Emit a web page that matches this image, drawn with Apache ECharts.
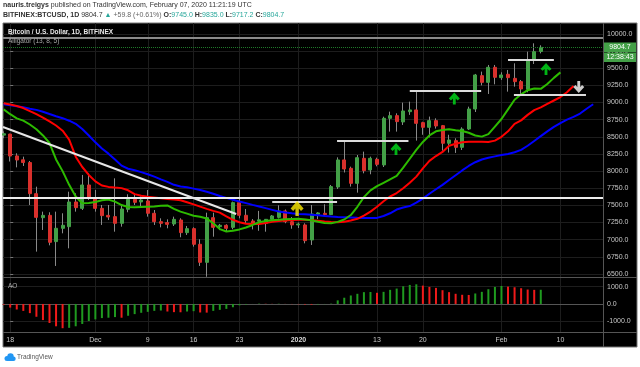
<!DOCTYPE html>
<html>
<head>
<meta charset="utf-8">
<script src="https://cdn.jsdelivr.net/npm/echarts@6/dist/echarts.min.js"></script>
<style>
  html, body { margin: 0; padding: 0; background: #fff; }
  #main { width: 640px; height: 367px; }
</style>
</head>
<body>
<div id="main"></div>
<script>
// BTCUSD 1D, Bitfinex - Alligator + AO
// day index 0 = 2019-11-18, every array below starts at 2019-11-17 (day -1)
var firstDay = -1;

var opens  = [8525, 8540, 8221, 8165, 8125, 7671, 7321, 7355, 6972, 7166, 7190, 7550, 7457, 7798, 7603, 7457, 7355, 7336, 7239, 7443,
              7589, 7550, 7565, 7385, 7263, 7249, 7229, 7287, 7103, 7161, 6933, 6670, 7321, 7190, 7210, 7180, 7540, 7356, 7273, 7270,
              7239, 7297, 7326, 7419, 7263, 7215, 7215, 6996, 7370, 7385, 7366, 7768, 8163, 8041, 7822, 8187, 8017, 8172, 8090, 8770,
              8809, 8717, 8867, 8892, 8707, 8639, 8736, 8663, 8406, 8444, 8347, 8614, 8906, 9392, 9295, 9514, 9363, 9412, 9353, 9305,
              9193, 9621, 9745];
var highs  = [8580, 8545, 8260, 8211, 8148, 7773, 7409, 7400, 7409, 7385, 7700, 7676, 7944, 7968, 7725, 7506, 7506, 7895, 7506, 7662,
              7652, 7630, 7725, 7433, 7312, 7297, 7336, 7312, 7200, 7180, 7006, 7394, 7394, 7230, 7225, 7555, 7725, 7448, 7300, 7420,
              7300, 7360, 7502, 7440, 7330, 7250, 7239, 7506, 7400, 7516, 7798, 8201, 8444, 8065, 8235, 8284, 8211, 8196, 8794, 8867,
              8843, 8999, 9013, 9174, 8720, 8795, 8770, 8673, 8530, 8479, 8639, 8940, 9417, 9451, 9548, 9548, 9441, 9475, 9572, 9329,
              9742, 9864, 9835];
var lows   = [8480, 8140, 8055, 8075, 7506, 6826, 7142, 6918, 6617, 7093, 6874, 7409, 7433, 7579, 7409, 7215, 7288, 7117, 7190, 7400,
              7506, 7480, 7336, 7215, 7180, 7166, 7200, 7035, 7069, 6899, 6617, 6460, 7044, 7140, 7120, 7151, 7312, 7239, 7150, 7130,
              7117, 7280, 7310, 7240, 7160, 7170, 6947, 6923, 7300, 7350, 7360, 7740, 7980, 7774, 7686, 7968, 7954, 8070, 8060, 8576,
              8576, 8673, 8820, 8445, 8530, 8493, 8620, 8298, 8270, 8265, 8308, 8600, 8862, 9250, 9125, 9266, 9330, 9159, 9232, 9111,
              9150, 9562, 9717.2];
var closes = [8545, 8220, 8162, 8125, 7671, 7326, 7355, 6962, 7166, 7210, 7550, 7467, 7798, 7603, 7457, 7351, 7331, 7239, 7448, 7589,
              7545, 7579, 7385, 7263, 7239, 7224, 7297, 7103, 7161, 6933, 6670, 7321, 7180, 7210, 7166, 7540, 7356, 7278, 7239, 7290,
              7297, 7346, 7419, 7263, 7215, 7229, 6986, 7375, 7390, 7365, 7774, 8163, 8031, 7822, 8196, 8007, 8187, 8099, 8770, 8809,
              8722, 8877, 8892, 8697, 8639, 8736, 8658, 8406, 8454, 8347, 8614, 8906, 9402, 9295, 9514, 9368, 9402, 9363, 9305, 9198,
              9621, 9742, 9804.7];

// Alligator (13, 8, 5): jaw / teeth / lips, already shifted forward
var jaw   = [8975, 8960, 8945, 8930, 8910, 8893, 8865, 8832, 8800, 8772, 8735, 8690, 8615, 8520, 8420, 8330, 8255, 8170, 8080, 8035,
             8012, 7985, 7955, 7920, 7880, 7843, 7800, 7775, 7765, 7745, 7725, 7700, 7670, 7638, 7610, 7582, 7557, 7533, 7508, 7485,
             7460, 7435, 7410, 7398, 7385, 7376, 7370, 7363, 7355, 7345, 7338, 7332, 7328, 7324, 7320, 7318, 7316, 7318, 7345, 7385,
             7440, 7470, 7490, 7540, 7600, 7670, 7735, 7800, 7870, 7940, 8010, 8075, 8130, 8170, 8195, 8215, 8235, 8250, 8275, 8310,
             8370, 8440, 8510, 8580, 8645, 8700, 8750, 8790, 8840, 8910, 8975];
var teeth = [8990, 8970, 8950, 8920, 8875, 8830, 8780, 8725, 8665, 8590, 8460, 8210, 8060, 7944, 7850, 7790, 7770, 7760, 7752, 7720,
             7665, 7640, 7625, 7615, 7603, 7595, 7585, 7575, 7545, 7515, 7482, 7450, 7420, 7395, 7340, 7290, 7255, 7232, 7228, 7230,
             7245, 7260, 7272, 7280, 7288, 7292, 7290, 7285, 7275, 7265, 7258, 7255, 7262, 7280, 7305, 7350, 7410, 7480, 7560, 7630,
             7680, 7750, 7830, 7920, 8040, 8150, 8220, 8280, 8370, 8400, 8420, 8428, 8430, 8428, 8425, 8445, 8500, 8580, 8690, 8740,
             8820, 8890, 8930, 8980, 9030, 9080, 9150, 9240];
var lips  = [8900, 8830, 8770, 8736, 8680, 8610, 8520, 8410, 8170, 8000, 7800, 7630, 7530, 7535, 7550, 7575, 7585, 7555, 7505, 7478,
             7472, 7478, 7482, 7485, 7495, 7500, 7450, 7410, 7380, 7350, 7335, 7310, 7240, 7155, 7120, 7130, 7150, 7178, 7215, 7255,
             7272, 7285, 7292, 7298, 7302, 7305, 7295, 7282, 7262, 7245, 7240, 7260, 7295, 7360, 7480, 7620, 7720, 7780, 7830, 7880,
             7930, 8050, 8180, 8310, 8425, 8520, 8580, 8600, 8610, 8595, 8585, 8560, 8520, 8503, 8540, 8650, 8760, 8900, 9040, 9120,
             9180, 9205, 9200, 9270, 9360, 9440];

// Awesome Oscillator
var ao = [-40, -210, -320, -400, -530, -740, -930, -1100, -1290, -1400, -1380, -1290, -1155, -985, -890, -815, -795, -758, -795, -682,
          -587, -511, -455, -398, -379, -436, -473, -480, -436, -417, -492, -500, -398, -341, -284, -190, -76, -30, -5, 20,
          12, 8, 15, 5, -10, -15, -30, -40, -25, -10, 20, 208, 360, 490, 587, 682, 690, 645, 700, 815,
          890, 1023, 1100, 1136, 1060, 985, 928, 795, 682, 587, 530, 520, 606, 700, 852, 985, 1040, 1003, 965, 909,
          833, 815, 820];

// axis ticks
var dayTicks   = [0, 13, 21, 28, 35, 44, 56, 63, 75, 84];
var tickLabels = ['18', 'Dec', '9', '16', '23', '2020', '13', '20', 'Feb', '10'];
var priceTicks = [6500, 6750, 7000, 7250, 7500, 7750, 8000, 8250, 8500, 8750, 9000, 9250, 9500, 9750, 10000];
var aoTicks    = [-1000, 0, 1000];

// drawings: [fromDay, toDay, price]
var levels    = [[-1.1, 90.5, 7610], [40.0, 49.9, 7555], [49.9, 60.8, 8447], [61.0, 71.9, 9173], [76.0, 83.0, 9631], [76.9, 87.9, 9115]];
var greyLevel = [-1.1, 90.5, 9952];
var trendLine = [[-1.1, 8644], [34.5, 7375]];
var lastPrice = 9804.7;
// arrows: [day, price]
var yellowUp = [[43.8, 7455]];
var greenUp  = [[58.9, 8323], [67.8, 9059], [81.8, 9490]];
var whiteDn  = [[86.8, 9227]];

var FONT = 'Liberation Sans, Arial, sans-serif';
var UP = '#43a047', DOWN = '#d9302c';
var ARROW = 'path://M50,0 L100,50 L80,66 L63,50 L63,100 L37,100 L37,50 L20,66 L0,50 Z';

var wickData = [], bodyData = [], aoData = [];
opens.forEach(function (o, i) {
    var d = firstDay + i, c = closes[i];
    wickData.push([d, o, c, lows[i], highs[i]]);
    bodyData.push([d, o, c, Math.min(o, c), Math.max(o, c)]);
});
ao.forEach(function (v, i) { aoData.push([firstDay + i, v]); });
function toLine(arr) {
    return arr.map(function (v, i) { return [firstDay + i, v]; });
}

function seg(a, b, color, width, type) {
    return [{ coord: a, lineStyle: { color: color, width: width, type: type || 'solid' } }, { coord: b }];
}
var segs = levels.map(function (l, i) {
    return seg([l[0], l[2]], [l[1], l[2]], i === 0 ? '#ececec' : '#dcdcdc', 2);
});
segs.push(seg([greyLevel[0], greyLevel[2]], [greyLevel[1], greyLevel[2]], '#8a8a8a', 2));
segs.push(seg(trendLine[0], trendLine[1], '#e6e6e6', 2));
segs.push(seg([-1.1, lastPrice], [90.5, lastPrice], '#1f7a2a', 1, 'dotted'));

function xAxisFor(gi, labels) {
    return {
        type: 'value', gridIndex: gi, min: -1.1, max: 90.5,
        axisLine: { show: labels, lineStyle: { color: '#555' } },
        axisTick: { show: false, customValues: dayTicks },
        axisLabel: labels ? {
            customValues: dayTicks, color: '#c8c8c8', fontSize: 7, fontFamily: FONT, margin: 5,
            formatter: function (v) {
                var t = tickLabels[dayTicks.indexOf(v)];
                return t === '2020' ? '{b|' + t + '}' : t;
            },
            rich: { b: { fontWeight: 'bold', fontSize: 7, color: '#d8d8d8', fontFamily: FONT } }
        } : { show: false },
        splitLine: { show: true, lineStyle: { color: '#1d1d1d', width: 1 } }
    };
}

var option = {
    animation: false,
    backgroundColor: '#fff',
    grid: [
        { left: 3, top: 23, width: 600, height: 254 },
        { left: 3, top: 278, width: 600, height: 54 }
    ],
    xAxis: [xAxisFor(0, false), xAxisFor(1, true)],
    yAxis: [{
        type: 'value', gridIndex: 0, position: 'right', min: 6456, max: 10160,
        axisLine: { show: false },
        axisTick: { show: true, length: 3, customValues: priceTicks, lineStyle: { color: '#777' } },
        axisLabel: { customValues: priceTicks, color: '#c8c8c8', fontSize: 7, fontFamily: FONT, margin: 4,
            formatter: function (v) { return v.toFixed(1); } },
        splitLine: { show: true, lineStyle: { color: '#1d1d1d' } }
    }, {
        type: 'value', gridIndex: 1, position: 'right', min: -1620, max: 1500,
        axisLine: { show: false },
        axisTick: { show: true, length: 3, customValues: aoTicks, lineStyle: { color: '#777' } },
        axisLabel: { customValues: aoTicks, color: '#c8c8c8', fontSize: 7, fontFamily: FONT, margin: 4,
            formatter: function (v) { return v.toFixed(1); } },
        splitLine: { show: true, lineStyle: { color: '#1d1d1d' } }
    }],
    series: [{
        type: 'candlestick', name: 'wick', data: wickData, barWidth: 1, clip: true,
        encode: { x: 0, y: [1, 2, 3, 4] },
        itemStyle: { color: '#8a8a8a', color0: '#8a8a8a', borderColor: '#8a8a8a', borderColor0: '#8a8a8a', borderWidth: 1 }
    }, {
        type: 'candlestick', name: 'body', data: bodyData, barWidth: 3.5, clip: true,
        encode: { x: 0, y: [1, 2, 3, 4] },
        itemStyle: { color: UP, color0: DOWN, borderColor: UP, borderColor0: DOWN, borderWidth: 1 }
    }, {
        type: 'line', name: 'jaw', data: toLine(jaw), showSymbol: false, symbol: 'none',
        lineStyle: { color: '#0000ff', width: 2 }
    }, {
        type: 'line', name: 'teeth', data: toLine(teeth), showSymbol: false, symbol: 'none',
        lineStyle: { color: '#ff0000', width: 2 }
    }, {
        type: 'line', name: 'lips', data: toLine(lips), showSymbol: false, symbol: 'none',
        lineStyle: { color: '#2dbb00', width: 2 }
    }, {
        type: 'line', name: 'drawings', data: [], z: 5,
        markLine: { silent: true, symbol: ['none', 'none'], label: { show: false },
            lineStyle: { type: 'solid' }, data: segs }
    }, {
        type: 'scatter', data: yellowUp, symbol: ARROW, symbolSize: [13, 15], z: 6,
        itemStyle: { color: '#ffee00' }
    }, {
        type: 'scatter', data: greenUp, symbol: ARROW, symbolSize: [11, 12], z: 6,
        itemStyle: { color: '#00e01a' }
    }, {
        type: 'scatter', data: whiteDn, symbol: ARROW, symbolSize: [11, 12], symbolRotate: 180, z: 6,
        itemStyle: { color: '#ffffff' }
    }, {
        type: 'bar', name: 'AO', xAxisIndex: 1, yAxisIndex: 1, data: aoData, barWidth: 2,
        itemStyle: {
            color: function (p) {
                var prev = p.dataIndex > 0 ? ao[p.dataIndex - 1] : ao[0] + 1;
                return ao[p.dataIndex] >= prev ? '#1f9a1f' : '#f01a1a';
            }
        }
    }],
    graphic: [
        { type: 'rect', z: -100, shape: { x: 3, y: 23, width: 634, height: 324 },
          style: { fill: '#000', stroke: '#777', lineWidth: 1 } },
        { type: 'line', z: 50, shape: { x1: 603.5, y1: 23, x2: 603.5, y2: 347 }, style: { stroke: '#555', lineWidth: 1 } },
        { type: 'line', z: 50, shape: { x1: 3, y1: 277.5, x2: 637, y2: 277.5 }, style: { stroke: '#555', lineWidth: 1 } },
        { type: 'line', z: 50, shape: { x1: 3, y1: 332.5, x2: 637, y2: 332.5 }, style: { stroke: '#555', lineWidth: 1 } },
        { type: 'text', left: 3, top: 2, style: {
            text: '{b|nauris.treigys} published on TradingView.com, February 07, 2020 11:21:19 UTC',
            fill: '#333', font: '7px ' + FONT,
            rich: { b: { fontWeight: 'bold', fill: '#333', fontSize: 7, fontFamily: FONT } } } },
        { type: 'text', left: 3, top: 12, style: {
            text: '{b|BITFINEX:BTCUSD, 1D} 9804.7 {g|▲} {m|+59.8 (+0.61%)} {b|O:}{t|9745.0} {b|H:}{t|9835.0} {b|L:}{t|9717.2} {b|C:}{t|9804.7}',
            fill: '#333', font: '7px ' + FONT,
            rich: {
                b: { fontWeight: 'bold', fill: '#333', fontSize: 7, fontFamily: FONT },
                g: { fill: '#26a69a', fontSize: 7, fontFamily: FONT },
                m: { fill: '#666', fontSize: 7, fontFamily: FONT },
                t: { fill: '#26a69a', fontSize: 7, fontFamily: FONT }
            } } },
        { type: 'text', z: 60, left: 8, top: 29, style: { text: 'Bitcoin / U.S. Dollar, 1D, BITFINEX',
            fill: '#e8e8e8', font: 'bold 6.5px ' + FONT } },
        { type: 'text', z: 60, left: 8, top: 38, style: { text: 'Alligator (13, 8, 5)', fill: '#a8a8a8', font: '6.5px ' + FONT } },
        { type: 'text', z: 60, left: 8, top: 283, style: { text: 'AO', fill: '#a8a8a8', font: '6.5px ' + FONT } },
        { type: 'rect', z: 60, shape: { x: 604, y: 42.5, width: 32, height: 9.5 }, style: { fill: '#43a047' } },
        { type: 'text', z: 61, x: 620, y: 47.5, style: { text: '9804.7', fill: '#fff', font: '7px ' + FONT,
            align: 'center', verticalAlign: 'middle' } },
        { type: 'rect', z: 60, shape: { x: 604, y: 52.5, width: 32, height: 9.5 }, style: { fill: '#43a047' } },
        { type: 'text', z: 61, x: 620, y: 57.5, style: { text: '12:38:43', fill: '#fff', font: '7px ' + FONT,
            align: 'center', verticalAlign: 'middle' } },
        { type: 'circle', shape: { cx: 7, cy: 358.5, r: 2.5 }, style: { fill: '#2196f3' } },
        { type: 'circle', shape: { cx: 10.5, cy: 356.5, r: 3.2 }, style: { fill: '#2196f3' } },
        { type: 'circle', shape: { cx: 13.5, cy: 358.8, r: 2.2 }, style: { fill: '#2196f3' } },
        { type: 'rect', shape: { x: 7, y: 358.5, width: 6.5, height: 2.5 }, style: { fill: '#2196f3' } },
        { type: 'text', left: 17, top: 354, style: { text: 'TradingView', fill: '#555', font: '6.5px ' + FONT } }
    ]
};

var myChart = echarts.init(document.getElementById('main'));
myChart.setOption(option);
</script>
</body>
</html>
